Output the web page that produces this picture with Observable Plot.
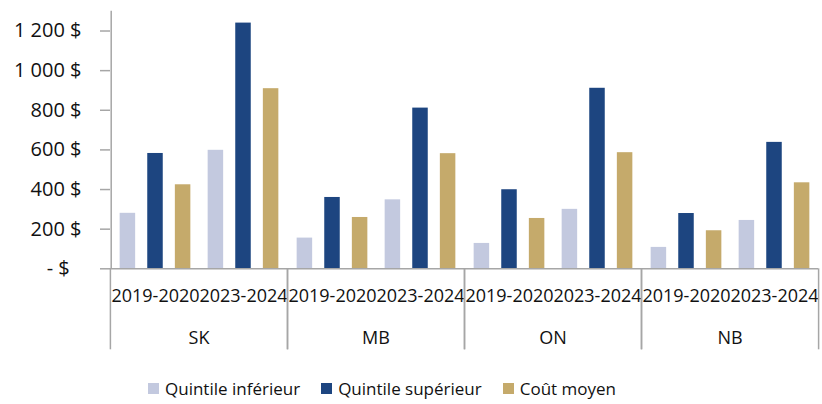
<!DOCTYPE html>
<html><head><meta charset="utf-8">
<script src="https://cdn.jsdelivr.net/npm/d3@7"></script>
<script src="https://cdn.jsdelivr.net/npm/@observablehq/plot@0.6"></script>
<style>
body{margin:0;background:#fff;font-family:"Open Sans",sans-serif;}
#legend{display:flex;align-items:center;height:24px;margin-top:16px;padding-left:148px;font-size:17px;color:#111;}
.item{display:flex;align-items:center;margin-right:21px}
.sw{width:11px;height:11px;margin-right:6px}
</style></head><body>
<div id="chart"></div>
<div id="legend"></div>
<script>
const provinces = ["SK", "MB", "ON", "NB"];
const periods = ["2019-2020", "2023-2024"];
const seriesNames = ["Quintile inférieur", "Quintile supérieur", "Coût moyen"];
const seriesColors = ["#c3c9df", "#1d4580", "#c5aa6b"];
// values ordered SK 19-20, SK 23-24, MB 19-20, MB 23-24, ON ..., NB ...
const quintileInferieur = [280, 598, 155, 348, 128, 300, 108, 244];
const quintileSuperieur = [582, 1240, 360, 811, 399, 911, 279, 638];
const coutMoyen = [424, 909, 259, 581, 254, 586, 192, 434];
const yTicks = [0, 200, 400, 600, 800, 1000, 1200];

const seriesValues = [quintileInferieur, quintileSuperieur, coutMoyen];
const data = [];
seriesValues.forEach((vals, s) => vals.forEach((v, i) => data.push({
  province: provinces[Math.floor(i / 2)], period: periods[i % 2], series: seriesNames[s], value: v
})));

const grey = "#a6a6a6";
const sp = "\u00a0";
const fmt = d => d3.format(",")(d).replace(/,/g, sp) + sp + "$";
const offsets = [-27.6, 0, 27.6];

const chart = Plot.plot({
  width: 822, height: 360,
  marginTop: 10.7, marginBottom: 91.7, marginLeft: 110, marginRight: 3.5,
  style: {fontFamily: "Open Sans", fontSize: "18px", color: "#111", background: "#fff"},
  fx: {domain: provinces, padding: 0, label: null},
  x: {domain: periods, padding: 0, label: null},
  y: {domain: [0, 1300], label: null},
  marks: [
    ...seriesNames.map((s, k) => Plot.barY(data, {
      filter: d => d.series === s, fx: "province", x: "period", y: "value",
      fill: seriesColors[k], insetLeft: 36.25, insetRight: 36.25, dx: offsets[k]
    })),
    Plot.ruleY([0], {stroke: grey, strokeWidth: 1.5}),
    Plot.ruleX([{p: provinces[0], t: periods[0]}], {fx: "p", x: "t", dx: -44.3, stroke: grey, strokeWidth: 1.5}),
    Plot.axisY({ticks: yTicks, tickSize: 10, tickPadding: 19, tickFormat: d => d === 0 ? "" : fmt(d),
      stroke: grey, strokeWidth: 1.5, fontSize: 20, label: null}),
    Plot.axisY({ticks: [0], tickSize: 0, tickPadding: 40.7, tickFormat: () => "-" + sp + "$", fontSize: 20, label: null}),
    Plot.axisX({tickSize: 0, tickPadding: 20, fontSize: 18, label: null}),
    Plot.axisFx({anchor: "bottom", tickSize: 0, tickPadding: 62.4, fontSize: 18, label: null}),
    Plot.axisFx({anchor: "bottom", tickSize: 81, tickFormat: () => "", dx: -88.6, stroke: grey, strokeWidth: 1.5, label: null}),
    Plot.axisFx([provinces[3]], {anchor: "bottom", tickSize: 81, tickFormat: () => "", dx: 88.6, stroke: grey, strokeWidth: 1.5, label: null})
  ]
});
document.getElementById("chart").appendChild(chart);

const legend = document.getElementById("legend");
seriesNames.forEach((s, k) => {
  const it = document.createElement("div");
  it.className = "item";
  const sw = document.createElement("span");
  sw.className = "sw";
  sw.style.background = seriesColors[k];
  it.appendChild(sw);
  it.appendChild(document.createTextNode(s));
  legend.appendChild(it);
});
</script>
</body></html>
